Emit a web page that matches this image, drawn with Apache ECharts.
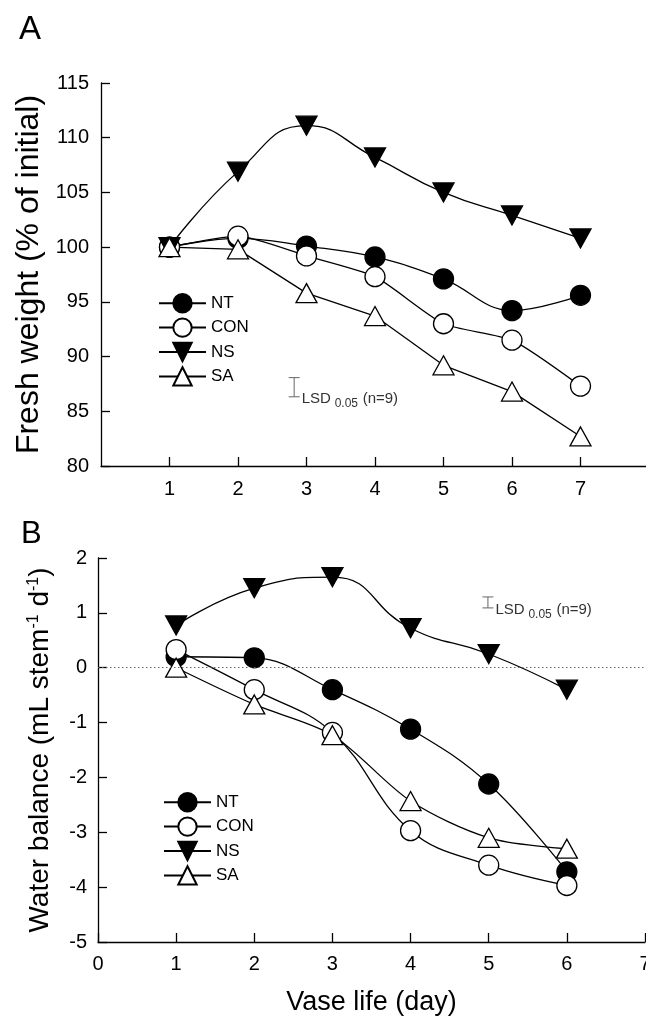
<!DOCTYPE html>
<html>
<head>
<meta charset="utf-8">
<script src="https://cdn.jsdelivr.net/npm/echarts@6/dist/echarts.min.js"></script>
<style>
html,body{margin:0;padding:0;background:#fff;}
#c{width:646px;height:1018px;}
</style>
</head>
<body>
<div id="c"></div>
<script>
// ---- data ----
var seriesNames = ['NT', 'CON', 'NS', 'SA'];
var daysA = [1, 2, 3, 4, 5, 6, 7];
var ntA  = [100, 100.8, 100.1, 99.1, 97.1, 94.2, 95.6];
var conA = [100, 101.0, 99.2, 97.3, 93.0, 91.5, 87.3];
var nsA  = [100, 106.9, 111.1, 108.2, 105.0, 102.9, 100.8];
var saA  = [100, 99.8, 95.8, 93.7, 89.2, 86.8, 82.7];

var daysB = [1, 2, 3, 4, 5, 6];
var ntB  = [0.2, 0.18, -0.4, -1.12, -2.12, -3.72];
var conB = [0.33, -0.4, -1.18, -2.97, -3.6, -3.97];
var nsB  = [0.77, 1.45, 1.65, 0.72, 0.25, -0.4];
var saB  = [0.0, -0.67, -1.23, -2.43, -3.1, -3.3];

var xTicksA = [1, 2, 3, 4, 5, 6, 7];
var lsdA = 1.75;   // LSD 0.05 (n=9), fresh weight
var lsdB = 0.2;    // LSD 0.05 (n=9), water balance

// ---- helpers ----
var FONT = '"Liberation Sans", Arial, Helvetica, sans-serif';
function pairs(xs, ys) { return xs.map(function (x, i) { return [x, ys[i]]; }); }

var styles = {
  NT:  { symbol: 'circle',   size: 20, rot: 0,   fill: '#000' },
  CON: { symbol: 'circle',   size: 20, rot: 0,   fill: '#fff' },
  NS:  { symbol: 'triangle', size: [21, 19], rot: 180, fill: '#000' },
  SA:  { symbol: 'triangle', size: [21, 19], rot: 0,   fill: '#fff' }
};

function mkSeries(name, data, gi, smooth, extra) {
  var s = styles[name];
  var o = {
    type: 'line', name: name, xAxisIndex: gi, yAxisIndex: gi,
    data: data, smooth: smooth,
    symbol: s.symbol, symbolSize: s.size, symbolRotate: s.rot,
    lineStyle: { color: '#000', width: 1.3 },
    itemStyle: { color: s.fill, borderColor: '#000', borderWidth: 1.3 },
    emphasis: { disabled: true },
    animation: false
  };
  if (extra) for (var k in extra) o[k] = extra[k];
  return o;
}

function lsdSeries(gi, lsd, anchor) {
  return {
    type: 'custom', xAxisIndex: gi, yAxisIndex: gi, silent: true, animation: false,
    data: [anchor],
    renderItem: function (params, api) {
      var x = api.value(0), y = api.value(1);
      var top = api.coord([x, y + lsd / 2]);
      var bot = api.coord([x, y - lsd / 2]);
      var cx = top[0], cap = 5.5, col = '#666';
      var ty = bot[1] + 2;
      var tx = cx + cap + 2;
      return {
        type: 'group',
        children: [
          { type: 'line', shape: { x1: cx, y1: top[1], x2: cx, y2: bot[1] }, style: { stroke: col, lineWidth: 1 } },
          { type: 'line', shape: { x1: cx - cap, y1: top[1], x2: cx + cap, y2: top[1] }, style: { stroke: col, lineWidth: 1 } },
          { type: 'line', shape: { x1: cx - cap, y1: bot[1], x2: cx + cap, y2: bot[1] }, style: { stroke: col, lineWidth: 1 } },
          { type: 'text', style: { text: 'LSD', x: tx, y: ty, verticalAlign: 'middle', fill: '#333', font: '15px ' + FONT } },
          { type: 'text', style: { text: '0.05', x: tx + 33, y: ty + 5, verticalAlign: 'middle', fill: '#333', font: '12px ' + FONT } },
          { type: 'text', style: { text: '(n=9)', x: tx + 61, y: ty, verticalAlign: 'middle', fill: '#333', font: '15px ' + FONT } }
        ]
      };
    }
  };
}

var axisLineStyle = { show: true, onZero: false, lineStyle: { color: '#000', width: 1.3 } };
var tickStyle = { show: true, inside: true, length: 9, lineStyle: { color: '#000', width: 1.3 } };
var labelStyle = { color: '#000', fontSize: 20, fontFamily: FONT };

var option = {
  backgroundColor: '#fff',
  animation: false,
  textStyle: { fontFamily: FONT },
  title: [
    { text: 'A', left: 14, top: 8, textStyle: { fontSize: 33, fontWeight: 'normal', color: '#000', fontFamily: FONT } },
    { text: 'B', left: 16, top: 514, textStyle: { fontSize: 31, fontWeight: 'normal', color: '#000', fontFamily: FONT } }
  ],
  grid: [
    { left: 101, top: 83, width: 548, height: 383, outerBoundsMode: 'none', containLabel: false },
    { left: 98, top: 558, width: 547, height: 384, outerBoundsMode: 'none', containLabel: false }
  ],
  legend: [
    { data: seriesNames, orient: 'vertical', left: 158, top: 293, padding: 0, itemWidth: 47, itemHeight: 23, itemGap: 4,
      selectedMode: false, textStyle: { fontSize: 17, color: '#000', fontFamily: FONT } },
    { data: seriesNames, orient: 'vertical', left: 163, top: 792, padding: 0, itemWidth: 47, itemHeight: 23, itemGap: 4,
      selectedMode: false, textStyle: { fontSize: 17, color: '#000', fontFamily: FONT } }
  ],
  xAxis: [
    { type: 'value', gridIndex: 0, min: 0, max: 8, interval: 1,
      axisLine: axisLineStyle, splitLine: { show: false },
      axisTick: Object.assign({}, tickStyle, { customValues: xTicksA }),
      axisLabel: Object.assign({}, labelStyle, { margin: 13, customValues: xTicksA }) },
    { type: 'value', gridIndex: 1, min: 0, max: 7, interval: 1,
      axisLine: axisLineStyle, splitLine: { show: false }, axisTick: tickStyle,
      axisLabel: Object.assign({}, labelStyle, { margin: 12, showMaxLabel: true }),
      name: 'Vase life (day)', nameLocation: 'middle', nameGap: 47,
      nameTextStyle: { fontSize: 27, color: '#000', fontFamily: FONT } }
  ],
  yAxis: [
    { type: 'value', gridIndex: 0, min: 80, max: 115, interval: 5,
      axisLine: axisLineStyle, splitLine: { show: false }, axisTick: tickStyle,
      axisLabel: Object.assign({}, labelStyle, { margin: 12 }),
      name: 'Fresh weight (% of initial)', nameLocation: 'middle', nameRotate: 90, nameGap: 53,
      nameTextStyle: { fontSize: 32, color: '#000', fontFamily: FONT } },
    { type: 'value', gridIndex: 1, min: -5, max: 2, interval: 1,
      axisLine: axisLineStyle, splitLine: { show: false }, axisTick: tickStyle,
      axisLabel: Object.assign({}, labelStyle, { margin: 11 }),
      name: 'Water balance (mL stem{sup|-1} d{sup|-1})', nameLocation: 'middle', nameRotate: 90, nameGap: 44,
      nameTextStyle: { fontSize: 28, color: '#000', fontFamily: FONT,
        rich: { sup: { fontSize: 16, color: '#000', fontFamily: FONT, verticalAlign: 'top' } } } }
  ],
  series: [
    mkSeries('NT',  pairs(daysA, ntA),  0, 0.4),
    mkSeries('CON', pairs(daysA, conA), 0, 0.2),
    mkSeries('NS',  pairs(daysA, nsA),  0, 0.5),
    mkSeries('SA',  pairs(daysA, saA),  0, false),
    mkSeries('NT',  pairs(daysB, ntB),  1, 0.4, {
      markLine: { silent: true, symbol: 'none', animation: false, label: { show: false },
        lineStyle: { type: [1.5, 2.5], color: '#666', width: 1 }, data: [{ yAxis: 0 }] } }),
    mkSeries('CON', pairs(daysB, conB), 1, 0.4),
    mkSeries('NS',  pairs(daysB, nsB),  1, 0.5),
    mkSeries('SA',  pairs(daysB, saB),  1, 0.3),
    lsdSeries(0, lsdA, [2.82, 87.2]),
    lsdSeries(1, lsdB, [4.99, 1.19])
  ]
};

var chart = echarts.init(document.getElementById('c'), null, { renderer: 'canvas' });
chart.setOption(option);
</script>
</body>
</html>
